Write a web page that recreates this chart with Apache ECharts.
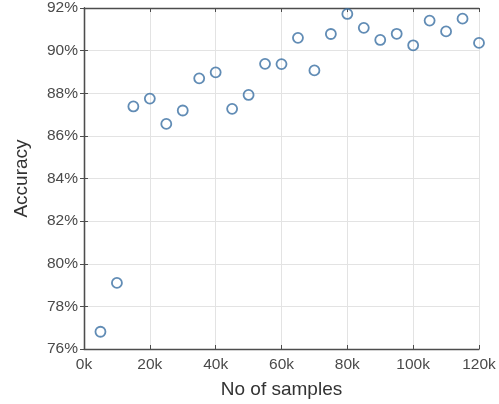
<!DOCTYPE html>
<html>
<head>
<meta charset="utf-8">
<script src="https://cdn.jsdelivr.net/npm/echarts@6/dist/echarts.min.js"></script>
<style>
html,body{margin:0;padding:0;background:#fff;}
#chart{width:499px;height:404px;}
</style>
</head>
<body>
<div id="chart"></div>
<script>
const samples = [5000,10000,15000,20000,25000,30000,35000,40000,45000,50000,55000,60000,65000,70000,75000,80000,85000,90000,95000,100000,105000,110000,115000,120000];
const accuracy = [76.81,79.10,87.38,87.75,86.56,87.19,88.70,88.98,87.27,87.92,89.38,89.37,90.60,89.07,90.78,91.72,91.07,90.50,90.79,90.25,91.41,90.90,91.50,90.36];
const xTicks = [0,20000,40000,60000,80000,100000,120000];
const yTicks = [76,78,80,82,84,86,88,90,92];

const font = 'Liberation Sans, Arial, Helvetica, sans-serif';
const axisColor = '#4d4d4d';
const gridColor = '#e3e3e3';
const labelColor = '#4a4a4a';

const chart = echarts.init(document.getElementById('chart'), null, {renderer:'canvas'});
const points = samples.map((s,i)=>[s, accuracy[i]]);

chart.setOption({
  animation:false,
  backgroundColor:'#ffffff',
  grid:{left:84, right:20, top:6, bottom:54, containLabel:false},
  xAxis:[{
    type:'value', position:'bottom',
    min:xTicks[0], max:xTicks[xTicks.length-1], interval:20000,
    name:'No of samples', nameLocation:'middle', nameGap:31,
    nameTextStyle:{fontFamily:font, fontSize:19, color:'#333'},
    axisLine:{show:true, lineStyle:{color:axisColor, width:1.3}},
    axisTick:{show:true, inside:true, length:4, lineStyle:{color:axisColor}},
    axisLabel:{fontFamily:font, fontSize:15.5, color:labelColor, margin:8,
      formatter:v=>(v/1000)+'k'},
    splitLine:{show:true, lineStyle:{color:gridColor, width:1}}
  },{
    type:'value', position:'top',
    min:xTicks[0], max:xTicks[xTicks.length-1], interval:20000,
    axisLine:{show:true, lineStyle:{color:axisColor, width:1.3}},
    axisTick:{show:true, inside:true, length:4, lineStyle:{color:axisColor}},
    axisLabel:{show:false}, splitLine:{show:false}
  }],
  yAxis:[{
    type:'value', position:'left',
    min:yTicks[0], max:yTicks[yTicks.length-1], interval:2,
    name:'Accuracy', nameLocation:'middle', nameGap:53,
    nameTextStyle:{fontFamily:font, fontSize:19, color:'#333'},
    axisLine:{show:true, lineStyle:{color:axisColor, width:1.3}},
    axisTick:{show:true, inside:true, length:4, lineStyle:{color:axisColor}},
    axisLabel:{fontFamily:font, fontSize:15.5, color:labelColor, margin:6,
      formatter:v=>v+'%'},
    splitLine:{show:true, lineStyle:{color:gridColor, width:1}}
  },{
    type:'value', position:'right',
    min:yTicks[0], max:yTicks[yTicks.length-1], interval:2,
    axisLine:{show:true, lineStyle:{color:axisColor, width:1.3}},
    axisTick:{show:true, inside:true, length:4, lineStyle:{color:axisColor}},
    axisLabel:{show:false}, splitLine:{show:false}
  }],
  series:[{
    type:'scatter',
    xAxisIndex:0, yAxisIndex:0,
    data:points,
    symbol:'circle',
    symbolSize:10,
    clip:false,
    itemStyle:{color:'rgba(255,255,255,0)', borderColor:'#3a6fa3', borderWidth:1.8}
  }]
});
</script>
</body>
</html>
